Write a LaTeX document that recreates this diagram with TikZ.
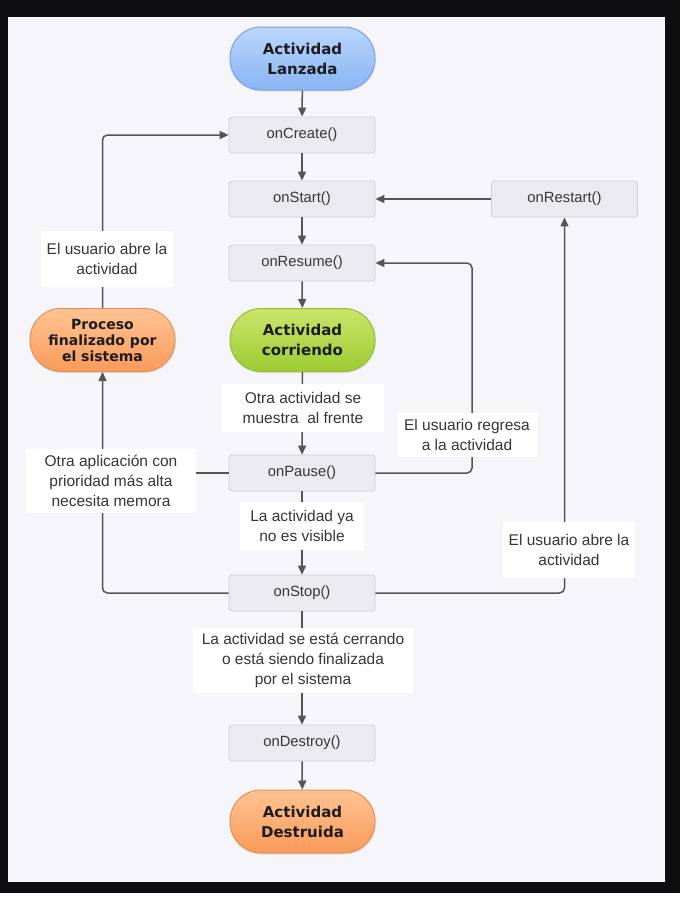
\documentclass[tikz,border=0pt]{standalone}
\usepackage{fontspec}
\setmainfont{Liberation Sans}
\newfontfamily\termfam{DejaVu Sans}
\usetikzlibrary{arrows.meta,shadows}
\definecolor{framecol}{HTML}{0E0E11}
\definecolor{bgcol}{HTML}{F6F5F9}
\definecolor{boxfill}{HTML}{EBEBEF}
\definecolor{boxline}{HTML}{CDCED4}
\definecolor{linecol}{HTML}{555555}
\definecolor{txt}{HTML}{363636}
\definecolor{termtxt}{HTML}{1C1C1C}
\definecolor{blueT}{HTML}{BAD6FD}
\definecolor{blueB}{HTML}{88B5F3}
\definecolor{blueD}{HTML}{7BA0E3}
\definecolor{greenT}{HTML}{CBE56A}
\definecolor{greenB}{HTML}{9DCB31}
\definecolor{greenD}{HTML}{93BD3A}
\definecolor{orangeT}{HTML}{FFC393}
\definecolor{orangeB}{HTML}{F99A5A}
\definecolor{orangeD}{HTML}{E68F55}
\begin{document}
\begin{tikzpicture}[x=1pt,y=-1pt,
  box/.style={draw=boxline, fill=boxfill, line width=0.8pt, rounded corners=3pt,
    minimum width=146pt, minimum height=36pt, inner sep=0pt,
    font=\fontsize{14.8}{17}\selectfont, text=txt},
  term/.style={rounded corners=31pt, minimum width=145pt, minimum height=63pt,
    inner sep=0pt, align=center, line width=1pt,
    font=\termfam\bfseries\fontsize{15}{20}\selectfont, text=termtxt,
    drop shadow={shadow xshift=0.8pt, shadow yshift=-1.5pt, opacity=0.18}},
  blueterm/.style={term, top color=blueT, bottom color=blueB, draw=blueD},
  greenterm/.style={term, top color=greenT, bottom color=greenB, draw=greenD},
  orangeterm/.style={term, top color=orangeT, bottom color=orangeB, draw=orangeD},
  lbl/.style={fill=white, align=center, inner sep=0pt,
    font=\fontsize{15.5}{20}\selectfont, text=txt},
  conn/.style={draw=linecol, line width=1.5pt, rounded corners=5pt},
  arr/.style={conn, -{Triangle[length=9pt,width=8pt]}}]

\useasboundingbox (0,0) rectangle (690,902);
\fill[white] (0,0) rectangle (690,902);
\fill[framecol] (0,0) rectangle (680,893);
\fill[bgcol] (8,17) rectangle (665,882);

% main nodes
\node[blueterm] (lanz) at (302.5,58.5) {Actividad\\Lanzada};
\node[box] (create) at (302,135) {onCreate()};
\node[box] (start) at (302,199) {onStart()};
\node[box] (restart) at (564.5,199) {onRestart()};
\node[box] (resume) at (302,263) {onResume()};
\node[greenterm] (run) at (302.5,340) {Actividad\\corriendo};
\node[box] (pause) at (302,473) {onPause()};
\node[box] (stop) at (302,593) {onStop()};
\node[box] (destroy) at (302,743) {onDestroy()};
\node[orangeterm] (dest) at (302.5,821.5) {Actividad\\Destruida};
\node[orangeterm, font=\termfam\bfseries\fontsize{14}{16}\selectfont] (killed) at (102.5,340) {Proceso\\finalizado por\\el sistema};

\coordinate (rx) at (472,0);

% connectors
\draw[arr] (lanz) -- (create);
\draw[arr] (create) -- (start);
\draw[arr] (start) -- (resume);
\draw[arr] (resume) -- (run);
\draw[arr] (run) -- (pause);
\draw[arr] (pause) -- (stop);
\draw[arr] (stop) -- (destroy);
\draw[arr] (destroy) -- (dest);
\draw[arr] (restart) -- (start);
\draw[arr] (pause.east) -- (pause.east -| rx) -- (resume.east -| rx) -- (resume.east);
\draw[arr] (stop.east) -| (restart.south);
\draw[arr] (stop.west) -| (killed.south);
\draw[arr] (killed.north) |- (create.west);
\draw[conn] (pause.west) -- (pause.west -| killed.south);

% labels
\node[lbl, minimum width=132pt, minimum height=56pt] (l1) at (107,259) {El usuario abre la\\actividad};
\node[lbl, minimum width=162pt, minimum height=48pt] (l2) at (303,408) {Otra actividad se\\muestra\ \ al frente};
\node[lbl, minimum width=124pt, minimum height=48pt] (l3) at (302,526) {La actividad ya\\no es visible};
\node[lbl, minimum width=220pt, minimum height=65pt] (l4) at (303,660) {La actividad se está cerrando\\o está siendo finalizada\\por el sistema};
\node[lbl, minimum width=170pt, minimum height=64pt] (l5) at (111,481) {Otra aplicación con\\prioridad más alta\\necesita memora};
\node[lbl, minimum width=139pt, minimum height=44pt] (l6) at (467,435) {El usuario regresa\\a la actividad};
\node[lbl, minimum width=132pt, minimum height=56pt] (l7) at (569,550) {El usuario abre la\\actividad};
\end{tikzpicture}
\end{document}
